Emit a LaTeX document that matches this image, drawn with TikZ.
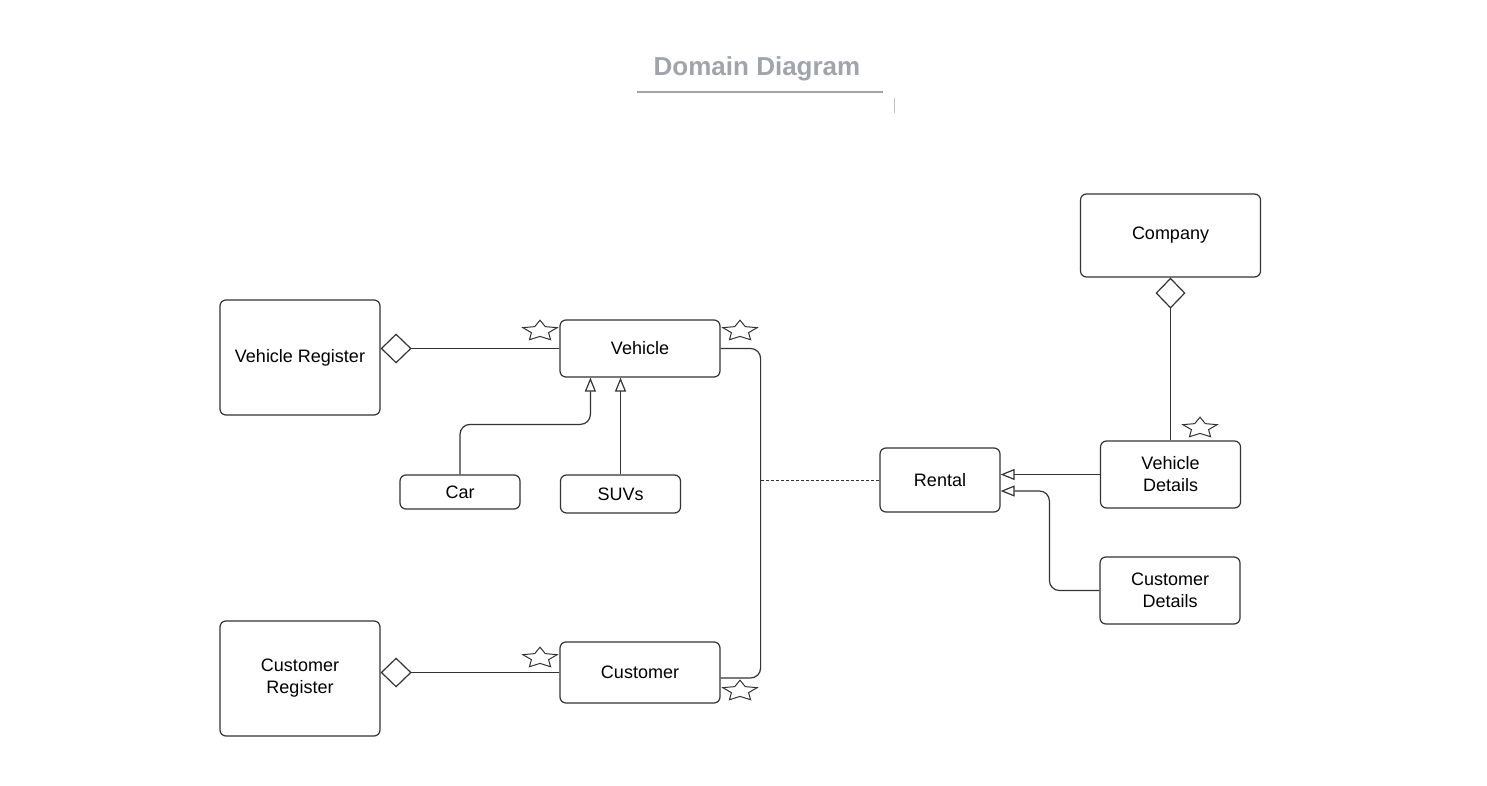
\documentclass[tikz,border=0pt]{standalone}
\usepackage{fontspec}
\setmainfont{Liberation Sans}
\usetikzlibrary{arrows.meta,shapes.geometric}
\definecolor{titlegray}{RGB}{160,165,172}
\definecolor{linegray}{RGB}{51,51,51}

\begin{document}
\begin{tikzpicture}[x=0.5pt,y=-0.5pt,
        box/.style={draw=linegray,line width=0.6pt,rounded corners=3pt,align=center,
            font=\fontsize{9}{11}\selectfont,inner sep=0pt},
        mult/.style={star,star points=5,star point ratio=2,draw=linegray,line width=0.5pt,
            minimum size=18pt,inner sep=0pt,yscale=0.6,transform shape},
        link/.style={draw=linegray,line width=0.6pt,rounded corners=5pt},
        agg/.style={link,{Diamond[open,length=15.5pt,width=15pt]}-},
        gen/.style={link,-{Triangle[open,length=7pt,width=5.5pt]}}]
    \useasboundingbox (0,0) rectangle (1487,786);

    % title
    \node[font=\bfseries\fontsize{13}{15}\selectfont,text=titlegray] (title) at (757,69) {Domain Diagram};
    \draw[titlegray,line width=0.8pt] (637,92) -- (883,92);
    \draw[titlegray!70,line width=0.5pt] (894,98) -- (894,113);

    % classes
    \node[box,minimum width=80pt,minimum height=57.5pt] (vreg) at (300,357.5) {Vehicle Register};
    \node[box,minimum width=80pt,minimum height=28.5pt] (vehicle) at (640,348.5) {Vehicle};
    \node[box,minimum width=60pt,minimum height=17pt] (car) at (460,492) {Car};
    \node[box,minimum width=60pt,minimum height=19pt] (suvs) at (620.5,494) {SUVs};
    \node[box,minimum width=80pt,minimum height=57.5pt] (creg) at (300,678.5) {Customer\\Register};
    \node[box,minimum width=80pt,minimum height=30.5pt] (customer) at (640,672.5) {Customer};
    \node[box,minimum width=90pt,minimum height=41.5pt] (company) at (1170.5,235.5) {Company};
    \node[box,minimum width=60pt,minimum height=32pt] (rental) at (940,480) {Rental};
    \node[box,minimum width=70pt,minimum height=33.5pt] (vdet) at (1170.5,474.5) {Vehicle\\Details};
    \node[box,minimum width=70pt,minimum height=33.5pt] (cdet) at (1170,590.5) {Customer\\Details};

    % multiplicities
    \node[mult] (vstarl) at (540,331) {};
    \node[mult] (vstarr) at (740,331) {};
    \node[mult] (cstarl) at (540,658) {};
    \node[mult] (cstarr) at (740,691) {};
    \node[mult] (vdstar) at (1200,428) {};

    % aggregations
    \draw[agg] (vreg.east |- vehicle.west) -- (vehicle.west);
    \draw[agg] (creg.east |- customer.west) -- (customer.west);
    \draw[agg] (company.south) -- (vdet.north);

    % generalisations
    \coordinate (cartip) at ([xshift=15.5pt]vehicle.south west);
    \draw[gen] (car.north) -- ++(0,-50) -| (cartip);
    \draw[gen] (suvs.north) -- (suvs.north |- vehicle.south);
    \draw[gen] (vdet.west) -- (vdet.west -| rental.east);
    \draw[gen] (cdet.west) -- ++(-50,0) |- ([yshift=-5.5pt]rental.east);

    % association
    \coordinate (bus) at ([xshift=20pt]vehicle.east);
    \draw[link] (vehicle.east) -- (bus) |- ([yshift=-2.75pt]customer.east);
    \draw[link,line width=0.5pt,dash pattern=on 1.5pt off 1pt] (rental.west) -- (bus |- rental.west);
\end{tikzpicture}
\end{document}
